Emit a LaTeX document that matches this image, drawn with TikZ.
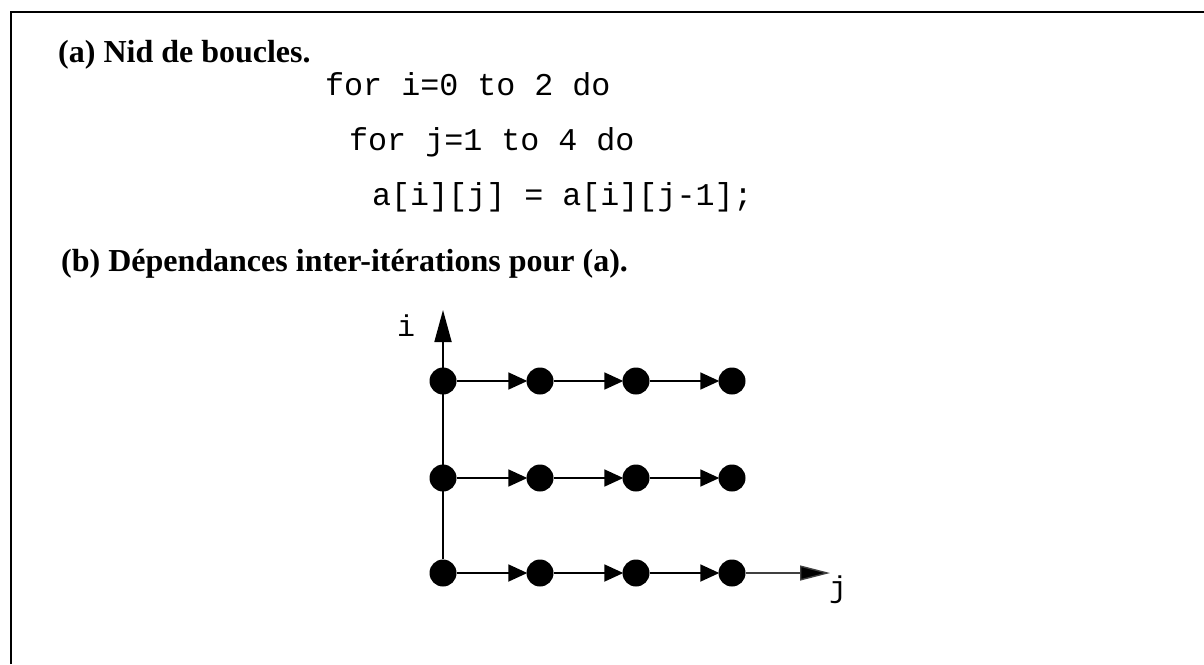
\documentclass[tikz,border=0pt]{standalone}
\usepackage{fontspec}
\setmainfont{Liberation Serif}
\newfontfamily\codefont{Liberation Mono}
\usetikzlibrary{arrows.meta}
\tikzset{
  title/.style={anchor=base west, inner sep=0pt, font=\fontsize{32}{36}\selectfont\bfseries},
  code/.style={anchor=base west, inner sep=0pt, font=\fontsize{31.7}{36}\selectfont\codefont},
  axislabel/.style={inner sep=0pt, font=\fontsize{30}{34}\selectfont\codefont},
  dot/.style={circle, fill=black, draw=none, inner sep=0pt, minimum size=27pt},
  conn/.style={line width=1.8pt, -{Triangle[length=19pt,width=17pt]}, shorten >=-1pt},
  iaxis/.style={line width=1.8pt, -{Triangle[length=32pt,width=17pt]}},
  jaxis/.style={line width=1.4pt, black!75, -{Triangle[length=30pt,width=15pt,fill=black]}},
  frame/.style={line width=2pt}
}
\begin{document}
\begin{tikzpicture}[x=1pt,y=-1pt]
\useasboundingbox (0,0) rectangle (1204,664);
\fill[white] (0,0) rectangle (1204,664);
% frame
\coordinate (fbl) at (11,664);
\coordinate (ftl) at (11,12);
\coordinate (ftr) at (1204,12);
\draw[frame] (fbl) -- (ftl) -- (ftr);
% texts
\node[title] (ta) at (58,62) {(a) Nid de boucles.};
\node[code] (c1) at (325,95) {for i=0 to 2 do};
\node[code] (c2) at (349,150) {for j=1 to 4 do};
\node[code] (c3) at (372,205) {a[i][j] = a[i][j-1];};
\node[title] (tb) at (61,271) {(b) D\'ependances inter-it\'erations pour (a).};
% nodes
\foreach \r/\y in {1/381,2/478,3/573}{
  \foreach \c/\x in {1/443,2/540,3/636,4/732}{
    \node[dot] (n\r\c) at (\x,\y) {};
  }
}
% horizontal dependencies
\foreach \r in {1,2,3}{
  \draw[conn] (n\r1) -- (n\r2);
  \draw[conn] (n\r2) -- (n\r3);
  \draw[conn] (n\r3) -- (n\r4);
}
% axes
\coordinate (itip) at (443,310);
\coordinate (jtip) at (830,573);
\draw[iaxis] (n31) -- (itip);
\draw[jaxis] (n34) -- (jtip);
\node[axislabel] (li) at (406,326) {i};
\node[axislabel] (lj) at (838,590) {j};
\end{tikzpicture}
\end{document}
